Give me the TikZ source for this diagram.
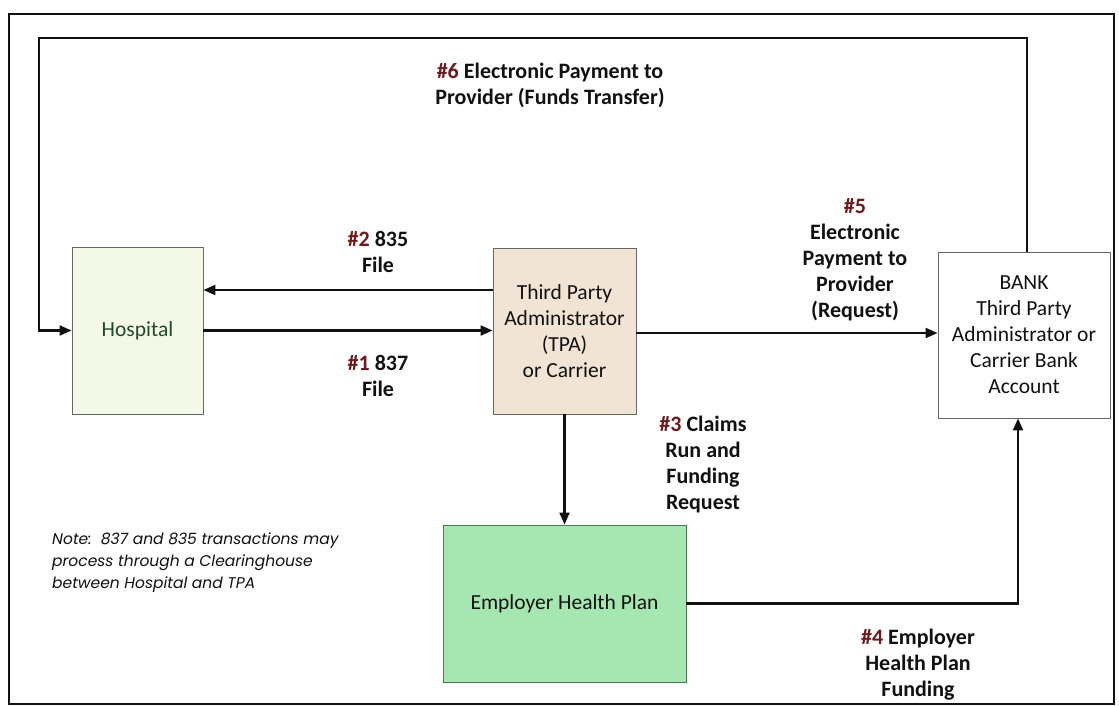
\documentclass[tikz,border=0pt]{standalone}
\usepackage{fontspec}
\setmainfont{Carlito}
\newfontfamily\notefont{Poppins}
\usetikzlibrary{arrows.meta,calc}
\definecolor{hashred}{HTML}{6E1A1C}
\definecolor{hospfill}{HTML}{F4F8E6}
\definecolor{hosptext}{HTML}{1F4A2A}
\definecolor{tpafill}{HTML}{F1E4D4}
\definecolor{ehpfill}{HTML}{A6E6B0}
\definecolor{ehpdraw}{HTML}{4C7A55}
\definecolor{boxdraw}{HTML}{666666}
\definecolor{inkblack}{HTML}{111111}
\tikzset{
  box/.style={draw=boxdraw, line width=0.9pt, inner sep=2pt, align=center,
              font=\fontsize{21.5}{26}\selectfont, text=inkblack},
  conn/.style={draw=inkblack, line width=2.1pt, -{Triangle[length=12pt,width=10pt]}},
  lbl/.style={align=center, font=\bfseries\fontsize{22}{26}\selectfont, text=inkblack, inner sep=0pt},
  frame/.style={draw=inkblack, line width=1.4pt}
}
\newcommand{\hsh}[1]{\textcolor{hashred}{#1}}
\begin{document}
\begin{tikzpicture}[x=1pt,y=-1pt]
\useasboundingbox (0,0) rectangle (1119,706);
\fill[white] (0,0) rectangle (1119,706);
\draw[frame] (9,14) rectangle (1114,704);

\node[box, fill=hospfill, minimum width=131pt, minimum height=167pt, text=hosptext] (hosp) at (137.5,330.5) {Hospital};
\node[box, fill=tpafill, minimum width=143pt, minimum height=166pt] (tpa) at (564.5,331) {Third Party\\Administrator\\(TPA)\\or Carrier};
\node[box, fill=white, minimum width=172pt, minimum height=166pt] (bank) at (1024,335) {BANK\\Third Party\\Administrator or\\Carrier Bank\\Account};
\node[box, fill=ehpfill, draw=ehpdraw, minimum width=243pt, minimum height=157pt] (ehp) at (564.5,603.5) {Employer Health Plan};

\coordinate (tl) at (39,38);
\coordinate (bup) at ($(bank.north)+(3,0)$);
\coordinate (bdown) at ($(bank.south)+(-6,0)$);

% #6 loop
\draw[conn] (bup) |- (tl) |- (hosp.west);
% #2
\draw[conn] ([yshift=41pt]tpa.west) -- ([yshift=41pt]tpa.west -| hosp.east);
% #1
\draw[conn] (hosp.east) -- (hosp.east -| tpa.west);
% #5
\draw[conn] ([yshift=-2pt]tpa.east) -- ([yshift=-2pt]tpa.east -| bank.west);
% #3
\draw[conn] (tpa.south) -- (ehp.north);
% #4
\draw[conn] (ehp.east) -| (bdown);

% labels
\node[lbl] (l6) at (550,85) {\hsh{\#6} Electronic Payment to\\Provider (Funds Transfer)};
\node[lbl] (l2) at (378,252) {\hsh{\#2} 835\\File};
\node[lbl] (l1) at (378,376) {\hsh{\#1} 837\\File};
\node[lbl] (l5) at (855,260) {\hsh{\#5}\\Electronic\\Payment to\\Provider\\(Request)};
\node[lbl] (l3) at (703,465) {\hsh{\#3} Claims\\Run and\\Funding\\Request};
\node[lbl] (l4) at (918,665) {\hsh{\#4} Employer\\Health Plan\\Funding};

\node[align=left, anchor=west, inner sep=0pt, text=inkblack,
      font=\notefont\itshape\fontsize{15.5}{22}\selectfont] (note) at (52,563)
  {Note:\ \ 837 and 835 transactions may\\process through a Clearinghouse\\between Hospital and TPA};
\end{tikzpicture}
\end{document}
